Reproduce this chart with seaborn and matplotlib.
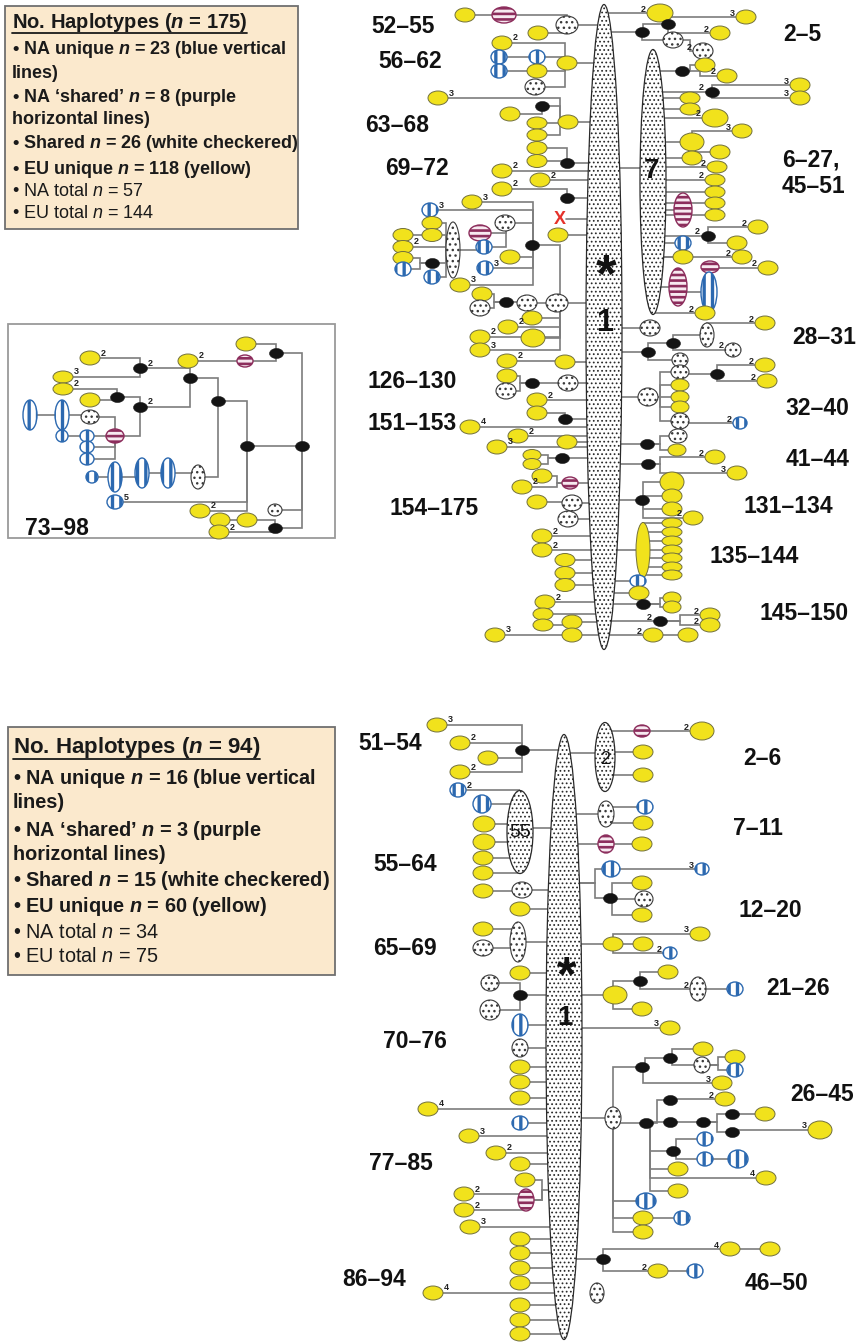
import numpy as np
import matplotlib
matplotlib.use("Agg")
import matplotlib.pyplot as plt
from matplotlib.patches import Ellipse, Rectangle
from matplotlib.path import Path
import seaborn as sns
import pandas as pd

# ---------------------------------------------------------------- DATA
# big (central) haplotypes: name, x, y, width, height
TOP_BIG = [("M1", 604, 327, 36, 645), ("E7", 653, 182, 26, 265)]
BOT_BIG = [("M2", 564, 1037, 36, 605), ("E2", 605, 757, 20, 69), ("E55", 520, 832, 26, 83)]
BIG_TEXT = [("*", 606, 262, 38, "bold"), ("1", 605, 320, 22, "bold"), ("7", 652, 168, 20, "bold"),
            ("*", 567, 963, 36, "bold"), ("1", 565, 1015, 20, "bold"),
            ("2", 605, 758, 13, "normal"), ("55", 520, 830, 14, "normal")]

# haplotype nodes: name, x, y, kind [, w, h] [, mutation label]
TOP_LEFT_NODES = [
    ("a1", 465, 15, "Y"), ("a2", 504, 15, "P", 24, 16), ("a3", 567, 25, "S", 22, 18), ("a4", 538, 33, "Y"),
    ("a5", 502, 43, "Y", "2"), ("a6", 499, 57, "B"), ("a7", 537, 57, "B"), ("a8", 499, 71, "B"), ("a9", 537, 71, "Y"),
    ("a10", 567, 63, "Y"), ("a11", 535, 87, "S"),
    ("a12", 438, 98, "Y", "3"), ("a13", 542, 106, "K"), ("a14", 510, 114, "Y"), ("a15", 568, 122, "Y"),
    ("a16", 537, 123, "Y", 20, 12), ("a17", 537, 135, "Y", 20, 12),
    ("a18", 537, 148, "Y", 20, 13), ("a19", 537, 161, "Y", 20, 13), ("a20", 567, 163, "K"),
    ("a21", 502, 171, "Y", "2"), ("a22", 540, 180, "Y", "2"), ("a23", 502, 189, "Y", "2"), ("a24", 567, 198, "K"),
    ("x1", 558, 235, "Y"),
    ("b0", 557, 303, "S", 22, 18), ("b1", 532, 245, "K"),
    ("b2", 472, 202, "Y", "3"), ("b3", 430, 210, "B", "3"), ("b4", 505, 223, "S"), ("b5", 510, 257, "Y"),
    ("b6", 485, 268, "B", "3"), ("b7", 460, 285, "Y", "3"),
    ("b8", 480, 233, "P", 22, 16), ("b9", 484, 247, "B"),
    ("b10", 453, 250, "S", 14, 56), ("b11", 432, 223, "Y", 20, 13), ("b12", 432, 235, "Y", 20, 13),
    ("b13", 403, 235, "Y", 20, 13), ("b14", 403, 247, "Y", 20, 13, "2"), ("b15", 403, 258, "Y", 20, 13),
    ("b16", 403, 269, "B"), ("b17", 432, 263, "K"), ("b18", 432, 277, "B"),
    ("b19", 482, 294, "Y"), ("b20", 480, 308, "S"), ("b21", 506, 302, "K"), ("b22", 527, 303, "S"),
    ("b23", 532, 318, "Y"), ("b24", 508, 327, "Y", "2"), ("b25", 480, 337, "Y", "2"), ("b26", 480, 350, "Y", "3"),
    ("b27", 533, 338, "Y", 24, 18),
    ("c1", 507, 361, "Y", "2"), ("c2", 565, 362, "Y"),
    ("c3", 507, 376, "Y"), ("c4", 506, 391, "S"), ("c5", 532, 383, "K"), ("c6", 568, 383, "S"),
    ("c7", 537, 400, "Y", "2"), ("c8", 537, 413, "Y"), ("c9", 565, 419, "K"), ("c10", 470, 427, "Y", "4"),
    ("c11", 518, 436, "Y", "2"), ("c12", 567, 442, "Y"), ("c13", 497, 447, "Y", "3"),
    ("c14", 532, 455, "Y", 18, 11), ("c15", 532, 464, "Y", 18, 11), ("c16", 562, 458, "K"),
    ("c17", 542, 476, "Y"), ("c18", 522, 487, "Y", "2"), ("c19", 570, 483, "P", 16, 12),
    ("c20", 537, 502, "Y"), ("c21", 572, 503, "S"), ("c22", 568, 519, "S"),
    ("c23", 542, 536, "Y", "2"), ("c24", 542, 550, "Y", "2"),
    ("c25", 565, 560, "Y", 20, 13), ("c26", 565, 573, "Y", 20, 13), ("c27", 565, 585, "Y", 20, 13),
    ("c28", 545, 602, "Y", "2"), ("c29", 543, 614, "Y", 20, 12), ("c30", 543, 625, "Y", 20, 12), ("c31", 572, 622, "Y"),
    ("c32", 495, 635, "Y", "3"), ("c33", 572, 635, "Y"),
]
TOP_RIGHT_NODES = [
    ("d1", 660, 13, "Y", 26, 18, "<2"), ("d2", 746, 17, "Y", "<3"), ("d3", 668, 24, "K"), ("d4", 720, 33, "Y", "<2"),
    ("d5", 642, 32, "K"), ("d6", 673, 40, "S"), ("d7", 703, 51, "S", "<2"),
    ("e1", 705, 65, "Y"), ("e2", 682, 71, "K"), ("e3", 727, 76, "Y", "<2"),
    ("e4", 712, 92, "K", "<2"), ("e5", 800, 85, "Y", "<3"), ("e6", 800, 98, "Y", "<3"),
    ("e7", 690, 98, "Y", 20, 12), ("e8", 690, 109, "Y", 20, 12), ("e9", 715, 118, "Y", 26, 18, "<2"),
    ("e10", 742, 131, "Y", "<3"), ("e11", 692, 142, "Y", 24, 18), ("e12", 720, 152, "Y"), ("e13", 692, 158, "Y"),
    ("e14", 717, 167, "Y", 20, 12, "<2"), ("e15", 715, 180, "Y", 20, 12, "<2"), ("e16", 715, 192, "Y", 20, 12),
    ("e17", 715, 203, "Y", 20, 12), ("e18", 715, 215, "Y", 20, 12),
    ("e19", 683, 210, "P", 18, 34), ("e20", 708, 236, "K", "<2"), ("e21", 758, 227, "Y", "<2"), ("e22", 737, 243, "Y"),
    ("e23", 683, 243, "B"), ("e24", 683, 257, "Y"), ("e25", 742, 257, "Y", "<2"),
    ("e26", 710, 267, "P", 18, 12), ("e27", 768, 268, "Y", "<2"), ("e28", 678, 287, "P", 18, 38),
    ("e29", 709, 292, "B", 16, 40), ("e30", 705, 313, "Y", "<2"),
    ("f1", 650, 328, "S"), ("f2", 707, 335, "S", 14, 24), ("f3", 765, 323, "Y", "<2"), ("f4", 673, 343, "K"),
    ("f5", 733, 350, "S", 16, 14, "<2"),
    ("f6", 648, 352, "K"), ("f7", 680, 360, "S", 16, 14), ("f8", 680, 372, "S", 18, 14), ("f9", 717, 374, "K"),
    ("f10", 765, 365, "Y", "<2"), ("f11", 767, 381, "Y", "<2"),
    ("f12", 648, 397, "S", 20, 18), ("f13", 680, 385, "Y", 18, 12), ("f14", 680, 397, "Y", 18, 12),
    ("f15", 680, 407, "Y", 18, 12),
    ("f16", 680, 421, "S", 18, 16), ("f17", 740, 423, "B", 14, 12, "<2"), ("f18", 678, 436, "S", 18, 14),
    ("f19", 647, 444, "K"), ("f20", 677, 450, "Y", 18, 12),
    ("f21", 648, 464, "K"), ("f22", 715, 457, "Y", "<2"), ("f23", 737, 473, "Y", "<3"),
    ("f24", 642, 500, "K"), ("f25", 672, 482, "Y", 24, 20), ("f26", 672, 496, "Y"), ("f27", 672, 509, "Y"),
    ("f28", 693, 518, "Y", "<2"),
    ("f29", 643, 550, "Y", 14, 55),
    ("f30", 672, 523, "Y", 20, 10), ("f31", 672, 532, "Y", 20, 10), ("f32", 672, 541, "Y", 20, 10),
    ("f33", 672, 550, "Y", 20, 10), ("f34", 672, 558, "Y", 20, 10), ("f35", 672, 567, "Y", 20, 10),
    ("f36", 672, 575, "Y", 20, 10),
    ("f37", 638, 581, "B", 16, 12), ("f38", 639, 593, "Y"), ("f39", 643, 604, "K"),
    ("f40", 672, 598, "Y", 18, 12), ("f41", 672, 607, "Y", 18, 12),
    ("f42", 660, 621, "K", "<2"), ("f43", 710, 615, "Y", "<2"), ("f44", 710, 625, "Y", "<2"),
    ("f45", 653, 635, "Y", "<2"), ("f46", 688, 635, "Y"),
]
INSET_NODES = [
    ("g1", 90, 358, "Y", "2"), ("g2", 63, 377, "Y", 20, 12, "3"), ("g3", 140, 368, "K", "2"),
    ("g4", 63, 389, "Y", 20, 12, "2"), ("g5", 117, 397, "K"), ("g6", 140, 407, "K", "2"),
    ("g7", 190, 378, "K"), ("g8", 90, 400, "Y"), ("g9", 188, 361, "Y", "2"), ("g10", 218, 401, "K"),
    ("g11", 245, 361, "P", 16, 12), ("g12", 276, 353, "K"), ("g13", 246, 344, "Y"),
    ("g14", 247, 446, "K"), ("g15", 302, 446, "K"),
    ("g16", 30, 415, "B", 14, 30), ("g17", 62, 415, "B", 14, 30), ("g18", 90, 417, "S", 18, 14),
    ("g19", 115, 436, "P", 18, 14),
    ("g20", 62, 436, "B", 12, 12), ("g21", 87, 436, "B", 14, 12), ("g22", 87, 447, "B", 14, 12),
    ("g23", 87, 459, "B", 14, 12),
    ("g24", 92, 477, "B", 12, 12), ("g25", 115, 477, "B", 14, 30), ("g26", 142, 473, "B", 14, 30),
    ("g27", 168, 473, "B", 14, 30), ("g28", 198, 477, "S", 14, 24),
    ("g29", 115, 502, "B", 16, 14, "5"), ("g30", 200, 511, "Y", "2"), ("g31", 275, 510, "S", 14, 12),
    ("g32", 220, 520, "Y"), ("g33", 247, 520, "Y"), ("g34", 275, 528, "K"), ("g35", 219, 532, "Y", "2"),
]
BOT_LEFT_NODES = [
    ("h1", 437, 725, "Y", "3"), ("h2", 460, 743, "Y", "2"), ("h3", 488, 758, "Y"), ("h4", 460, 772, "Y", "2"),
    ("h5", 522, 750, "K"),
    ("h6", 458, 790, "B", "2"), ("h7", 482, 804, "B", 18, 18), ("h8", 484, 824, "Y", 22, 16),
    ("h9", 484, 842, "Y", 22, 16), ("h10", 483, 858, "Y"), ("h11", 483, 873, "Y"),
    ("h12", 483, 891, "Y"), ("h13", 522, 890, "S"), ("h14", 520, 909, "Y"),
    ("h15", 483, 929, "Y"), ("h16", 483, 948, "S"), ("h17", 518, 942, "S", 16, 40), ("h18", 520, 973, "Y"),
    ("h19", 490, 983, "S", 18, 16), ("h20", 520, 995, "K"), ("h21", 490, 1010, "S", 20, 20),
    ("h22", 520, 1025, "B", 16, 22), ("h23", 520, 1048, "S", 16, 18),
    ("h24", 520, 1067, "Y"), ("h25", 520, 1082, "Y"), ("h26", 520, 1098, "Y"), ("h27", 428, 1109, "Y", "4"),
    ("h28", 520, 1123, "B"), ("h29", 469, 1136, "Y", "3"), ("h30", 496, 1153, "Y", "2"), ("h31", 520, 1164, "Y"),
    ("h32", 525, 1180, "Y"), ("h33", 526, 1200, "P", 16, 22), ("h34", 464, 1194, "Y", "2"),
    ("h35", 464, 1210, "Y", "2"), ("h36", 470, 1227, "Y", "3"),
    ("h37", 520, 1239, "Y"), ("h38", 520, 1253, "Y"), ("h39", 520, 1268, "Y"), ("h40", 520, 1283, "Y"),
    ("h41", 433, 1293, "Y", "4"), ("h42", 520, 1305, "Y"), ("h43", 520, 1320, "Y"), ("h44", 520, 1334, "Y"),
]
BOT_RIGHT_NODES = [
    ("i1", 642, 731, "P", 16, 12), ("i2", 702, 731, "Y", 24, 18, "<2"), ("i3", 643, 752, "Y"), ("i4", 643, 775, "Y"),
    ("i5", 606, 814, "S", 16, 26), ("i6", 645, 807, "B"), ("i7", 643, 823, "Y"),
    ("i8", 606, 844, "P", 16, 18), ("i9", 642, 844, "Y"),
    ("i10", 611, 869, "B", 18, 16), ("i11", 702, 869, "B", 14, 12, "<3"), ("i12", 642, 883, "Y"),
    ("i13", 644, 899, "S", 18, 16), ("i14", 610, 898, "K"), ("i15", 642, 915, "Y"),
    ("i16", 613, 944, "Y"), ("i17", 700, 934, "Y", "<3"), ("i18", 643, 944, "Y"), ("i19", 670, 953, "B", 14, 12, "<2"),
    ("i20", 615, 995, "Y", 24, 18), ("i21", 640, 981, "K"), ("i22", 668, 972, "Y"), ("i23", 698, 989, "S", 16, 24, "<2"),
    ("i24", 735, 989, "B"), ("i25", 642, 1009, "Y"), ("i26", 670, 1028, "Y", "<3"),
    ("j0", 613, 1118, "S", 16, 22), ("j1", 642, 1067, "K"), ("j2", 670, 1058, "K"), ("j3", 703, 1049, "Y"),
    ("j4", 702, 1065, "S", 16, 16), ("j5", 735, 1057, "Y"), ("j6", 735, 1070, "B"), ("j7", 722, 1083, "Y", "<3"),
    ("j8", 646, 1123, "K"), ("j9", 670, 1100, "K"), ("j10", 725, 1099, "Y", "<2"),
    ("j11", 670, 1122, "K"), ("j12", 703, 1122, "K"), ("j13", 732, 1114, "K"), ("j14", 765, 1114, "Y"),
    ("j15", 732, 1132, "K"), ("j16", 820, 1130, "Y", 24, 18, "<3"),
    ("j17", 673, 1151, "K"), ("j18", 705, 1139, "B"), ("j19", 705, 1159, "B"), ("j20", 738, 1159, "B", 20, 18),
    ("j21", 678, 1169, "Y"), ("j22", 766, 1178, "Y", "<4"), ("j23", 678, 1191, "Y"),
    ("j24", 646, 1201, "B", 20, 16), ("j25", 643, 1218, "Y"), ("j26", 682, 1218, "B"), ("j27", 643, 1232, "Y"),
    ("k1", 603, 1259, "K"), ("k2", 730, 1249, "Y", "<4"), ("k3", 770, 1249, "Y"), ("k4", 658, 1271, "Y", "<2"),
    ("k5", 695, 1271, "B"), ("k6", 597, 1293, "S", 14, 20),
]

# links: child, parent [, elbow x] [, y on parent] [, y on child]
TOP_EDGES = [
    ("a1", "a2"), ("a2", "a3", 567), ("a3", "M1"), ("a4", "a3", 567),
    ("a5", "a10", 565), ("a6", "a7"), ("a7", "a10", 565), ("a8", "a9"), ("a9", "a10", 565), ("a11", "a10", 565),
    ("a10", "M1"),
    ("a12", "a15", 560), ("a13", "a15", 560), ("a14", "a13", 542), ("a16", "a15", 560), ("a17", "a15", 560),
    ("a15", "M1"),
    ("a18", "a20", 567), ("a19", "a20"), ("a20", "M1"),
    ("a21", "M1"), ("a22", "M1"), ("a23", "a24", 567), ("a24", "M1"), ("x1", "M1"),
    ("b1", "b0", 560), ("b2", "b1", 533), ("b3", "b1", 533), ("b4", "b1", 533), ("b5", "b1", 533),
    ("b6", "b1", 533), ("b7", "b1", 533),
    ("b8", "b4", 506), ("b9", "b4", 506), ("b10", "b8"), ("b11", "b10", 446), ("b12", "b10", 446),
    ("b13", "b12"), ("b14", "b10", 446), ("b15", "b17", 420), ("b16", "b17", 420), ("b17", "b10", 446),
    ("b18", "b10", 446),
    ("b19", "b21", 494), ("b20", "b21", 494), ("b21", "b22"), ("b22", "b0"), ("b0", "M1"),
    ("b23", "b0", 560), ("b24", "b0", 560), ("b25", "b0", 560), ("b26", "b0", 560), ("b27", "b0", 560),
    ("c1", "c2"), ("c2", "M1"), ("c3", "c5", 520), ("c4", "c5", 520), ("c5", "c6"), ("c6", "M1"),
    ("c7", "M1"), ("c8", "c9", 565), ("c9", "M1"), ("c10", "M1"), ("c11", "M1"), ("c12", "M1"), ("c13", "M1"),
    ("c14", "c16", 548), ("c15", "c16", 548), ("c16", "M1"),
    ("c17", "c19", 557), ("c18", "c19", 557), ("c19", "M1"), ("c20", "c21"), ("c21", "M1"), ("c22", "M1"),
    ("c23", "M1"), ("c24", "M1"), ("c25", "M1"), ("c26", "M1"), ("c27", "M1"), ("c28", "M1"),
    ("c29", "M1"), ("c30", "c31"), ("c31", "M1"), ("c32", "c33"), ("c33", "M1"),
    ("d1", "M1"), ("d2", "d1"), ("d3", "d5", 643), ("d4", "d3", 668), ("d5", "M1"), ("d6", "d5", 642),
    ("d7", "d6", 690),
    ("E7", "M1", None, None, 168),
    ("e1", "e2", 690), ("e2", "E7"), ("e3", "e2", 700), ("e4", "E7"), ("e5", "e4", 712), ("e6", "e4", 712),
    ("e7", "E7"), ("e8", "E7"), ("e9", "E7"), ("e10", "e11", 692), ("e11", "E7"), ("e12", "e13", 692),
    ("e13", "E7"), ("e14", "E7"), ("e15", "E7"), ("e16", "E7"), ("e17", "E7"), ("e18", "E7"), ("e19", "E7"),
    ("e20", "E7"), ("e21", "e20", 708), ("e22", "e20", 708), ("e23", "E7"), ("e24", "E7"), ("e25", "E7"),
    ("e27", "e26"), ("e26", "e29", 709), ("e29", "e28"), ("e28", "E7"), ("e30", "E7"),
    ("f1", "M1"), ("f3", "f2", 707), ("f2", "f4", 673), ("f5", "f4", 673), ("f4", "f6", 648), ("f6", "M1"),
    ("f7", "f6", 648), ("f8", "f12", 660), ("f9", "f8"), ("f10", "f9", 717), ("f11", "f9", 717), ("f12", "M1"),
    ("f13", "f12", 660), ("f14", "f12", 660), ("f15", "f12", 660), ("f16", "f12", 660), ("f17", "f16"),
    ("f18", "f19", 660), ("f19", "M1"), ("f20", "f19", 660),
    ("f21", "M1"), ("f22", "f21", 660), ("f23", "f21", 660),
    ("f24", "M1"), ("f25", "f24", 643), ("f26", "f24", 643), ("f27", "f24", 643), ("f28", "f24", 643),
    ("f29", "M1"), ("f30", "f29"), ("f31", "f29"), ("f32", "f29"), ("f33", "f29"), ("f34", "f29"),
    ("f35", "f29"), ("f36", "f29"),
    ("f37", "M1"), ("f38", "M1"), ("f39", "M1"), ("f40", "f39", 660), ("f41", "f39", 660),
    ("f42", "M1"), ("f43", "f42", 680), ("f44", "f42", 680), ("f45", "M1"), ("f46", "f45"),
]
INSET_EDGES = [
    ("g1", "g3", 140), ("g2", "g3", 140), ("g3", "g7", 190), ("g4", "g5", 117), ("g8", "g5"), ("g5", "g6", 140),
    ("g6", "g7", 190), ("g7", "g10", 218),
    ("g9", "g11"), ("g11", "g12", 276), ("g13", "g12", 276), ("g12", "g15", 302), ("g10", "g14", 247),
    ("g14", "g15"),
    ("g16", "g17"), ("g17", "g18"), ("g18", "g19", 115), ("g19", "g6", 140), ("g20", "g21"), ("g21", "g19"),
    ("g22", "g19", 115), ("g23", "g19", 115),
    ("g24", "g25"), ("g25", "g26"), ("g26", "g27"), ("g27", "g28"), ("g28", "g10", 218),
    ("g29", "g14", 247), ("g30", "g14", 247), ("g31", "g15", 302), ("g32", "g33"), ("g33", "g34"),
    ("g35", "g34"), ("g34", "g15", 302),
]
BOT_EDGES = [
    ("h1", "h5", 522), ("h2", "h5", 522), ("h3", "h5", 522), ("h4", "h5", 522), ("h5", "M2"),
    ("h6", "E55", 520), ("h7", "E55"), ("h8", "E55"), ("h9", "E55"), ("h10", "E55"), ("h11", "E55"),
    ("E55", "M2", None, None, 828),
    ("h12", "h13"), ("h13", "M2"), ("h14", "M2"), ("h15", "h17"), ("h16", "h17"), ("h17", "M2"), ("h18", "M2"),
    ("h19", "h20", 520), ("h21", "h20", 520), ("h20", "M2"),
    ("h22", "M2"), ("h23", "M2"), ("h24", "M2"), ("h25", "M2"), ("h26", "M2"), ("h27", "M2"), ("h28", "M2"),
    ("h29", "M2"), ("h30", "M2"), ("h31", "M2"),
    ("h32", "h33", 542), ("h34", "h33"), ("h35", "h33"), ("h33", "M2", 542, 1190), ("h36", "M2"),
    ("h37", "M2"), ("h38", "M2"), ("h39", "M2"), ("h40", "M2"), ("h41", "M2"), ("h42", "M2"), ("h43", "M2"),
    ("h44", "M2"),
    ("E2", "M2", None, None, 753), ("i1", "E2"), ("i2", "i1"), ("i3", "E2"), ("i4", "E2"),
    ("i5", "M2"), ("i6", "i5"), ("i7", "i5"), ("i8", "M2"), ("i9", "i8"),
    ("i10", "M2", 595, 883), ("i11", "i10"), ("i12", "i14", 612), ("i13", "i14"), ("i15", "i14", 612),
    ("i14", "M2", 595, 883),
    ("i16", "M2"), ("i17", "i16", 613), ("i18", "i16"), ("i19", "i16", 613),
    ("i20", "M2"), ("i21", "i20", 613), ("i22", "i21", 640), ("i23", "i21", 640), ("i24", "i23"),
    ("i25", "i20", 613), ("i26", "M2"),
    ("j0", "M2"), ("j1", "j0", 613), ("j2", "j1", 645), ("j3", "j2", 672), ("j4", "j2", 672), ("j5", "j4", 718),
    ("j6", "j4", 718), ("j7", "j1", 643),
    ("j8", "j0"), ("j9", "j8", 657), ("j10", "j9"), ("j11", "j8"), ("j12", "j11"), ("j13", "j12", 717),
    ("j14", "j13"), ("j15", "j12", 717), ("j16", "j15"),
    ("j17", "j8", 650), ("j18", "j17", 676), ("j19", "j17", 676), ("j20", "j19"), ("j21", "j8", 650),
    ("j22", "j8", 650), ("j23", "j8", 650),
    ("j24", "j0", 613), ("j25", "j0", 613), ("j26", "j25"), ("j27", "j0", 613),
    ("k1", "M2"), ("k2", "k1", 603), ("k3", "k2"), ("k4", "k1", 603), ("k5", "k4"),
]

# group labels: text, x, y, alignment
TOP_LABELS = [("52–55", 403, 25, "center"), ("56–62", 410, 60, "center"), ("63–68", 397, 124, "center"),
              ("69–72", 417, 167, "center"), ("126–130", 412, 380, "center"), ("151–153", 412, 422, "center"),
              ("154–175", 434, 507, "center"), ("2–5", 802, 33, "center"), ("6–27,", 782, 158, "left"),
              ("45–51", 782, 185, "left"), ("28–31", 824, 336, "center"), ("32–40", 817, 407, "center"),
              ("41–44", 818, 458, "center"), ("131–134", 788, 505, "center"), ("135–144", 754, 555, "center"),
              ("145–150", 804, 612, "center")]
INSET_LABELS = [("73–98", 57, 527, "center")]
BOT_LABELS = [("51–54", 390, 742, "center"), ("2–6", 762, 757, "center"), ("7–11", 758, 827, "center"),
              ("55–64", 405, 863, "center"), ("12–20", 770, 909, "center"), ("65–69", 405, 947, "center"),
              ("21–26", 798, 987, "center"), ("70–76", 415, 1040, "center"), ("26–45", 822, 1093, "center"),
              ("77–85", 401, 1162, "center"), ("86–94", 374, 1278, "center"), ("46–50", 777, 1282, "center")]

TOP_LEGEND = ["No. Haplotypes ($n$ = 175)", "• NA unique $n$ = 23 (blue vertical", "lines)",
              "• NA ‘shared’ $n$ = 8 (purple", "horizontal lines)", "• Shared $n$ = 26 (white checkered)",
              "• EU unique $n$ = 118 (yellow)", "• NA total $\\mathsf{n}$ = 57", "• EU total $\\mathsf{n}$ = 144"]
TOP_LEGEND_Y = [23, 49, 73, 97, 119, 144, 169, 192, 213]
BOT_LEGEND = ["No. Haplotypes ($n$ = 94)", "• NA unique $n$ = 16 (blue vertical", "lines)",
              "• NA ‘shared’ $n$ = 3 (purple", "horizontal lines)", "• Shared $n$ = 15 (white checkered)",
              "• EU unique $n$ = 60 (yellow)", "• NA total $\\mathsf{n}$ = 34", "• EU total $\\mathsf{n}$ = 75"]
BOT_LEGEND_Y = [748, 778, 803, 830, 855, 880, 906, 932, 957]
LEGEND_WEIGHT = ["bold", "bold", "bold", "bold", "bold", "bold", "bold", "normal", "normal"]

# ---------------------------------------------------------------- STYLE
sns.set_theme(style="white")
plt.rcParams["font.family"] = ["Liberation Sans", "DejaVu Sans"]
plt.rcParams["mathtext.fontset"] = "custom"
plt.rcParams["mathtext.rm"] = "Liberation Sans"
plt.rcParams["mathtext.it"] = "Liberation Sans:italic:bold"
plt.rcParams["mathtext.sf"] = "Liberation Sans:italic"
plt.rcParams["mathtext.bf"] = "Liberation Sans:bold"

DEFAULT_SIZE = {"Y": (20, 14), "B": (16, 14), "P": (22, 16), "S": (20, 16), "K": (14, 10)}
STYLE = {
    "Y": dict(fc="#f1e21c", ec="#72703c", hatch=None, lw=0.7, hlw=1.0),
    "B": dict(fc="white", ec="#2c69b0", hatch="||", lw=1.0, hlw=2.4),
    "P": dict(fc="#f7e9f0", ec="#8c2d5c", hatch="---", lw=1.0, hlw=1.9),
    "S": dict(fc="white", ec="#3a3a3a", hatch="...", lw=0.8, hlw=1.0),
}
LINE_COLOR = "#7d7d7d"


def norm_node(t):
    name, x, y, kind = t[:4]
    rest = list(t[4:])
    w, h = DEFAULT_SIZE[kind]
    lab = ""
    if rest and isinstance(rest[-1], str):
        lab = rest.pop()
    if len(rest) == 2:
        w, h = rest
    return name, x, y, kind, w, h, lab


nodes = [norm_node(t) for t in TOP_LEFT_NODES + TOP_RIGHT_NODES + INSET_NODES + BOT_LEFT_NODES + BOT_RIGHT_NODES]
pos = {n[0]: (n[1], n[2]) for n in nodes}
big = {b[0]: b for b in TOP_BIG + BOT_BIG}
for b in big.values():
    pos[b[0]] = (b[1], b[2])

fig = plt.figure(figsize=(8.56, 13.42), dpi=100)
ax = fig.add_axes([0, 0, 1, 1])
ax.set_xlim(0, 856)
ax.set_ylim(1342, 0)
ax.axis("off")


def add_ellipse(x, y, w, h, fc, ec, hatch, lw, hlw, z):
    with plt.rc_context({"hatch.linewidth": hlw}):
        e = Ellipse((x, y), w, h, facecolor=fc, edgecolor=ec, hatch=hatch, linewidth=lw, zorder=z)
        if hasattr(e, "set_hatch_linewidth"):
            e.set_hatch_linewidth(hlw)
        ax.add_patch(e)
    return e


# boxes
ax.add_patch(Rectangle((5, 6), 293, 223, facecolor="#fbe9cd", edgecolor="#6f6f6f", linewidth=1.3, zorder=0.5))
ax.add_patch(Rectangle((8, 727), 327, 248, facecolor="#fbe9cd", edgecolor="#6f6f6f", linewidth=1.3, zorder=0.5))
ax.add_patch(Rectangle((8, 324), 327, 214, facecolor="white", edgecolor="#9a9a9a", linewidth=1.3, zorder=0.5))

# links
for e in TOP_EDGES + INSET_EDGES + BOT_EDGES:
    child, parent = e[0], e[1]
    elbow = e[2] if len(e) > 2 else None
    attach = e[3] if len(e) > 3 else None
    cy_over = e[4] if len(e) > 4 else None
    cx, cy = pos[child]
    if cy_over is not None:
        cy = cy_over
    px, py = pos[parent]
    if parent in big:
        py = cy
    if attach is not None:
        py = attach
    ex = px if elbow is None else elbow
    ax.plot([cx, ex, ex, px], [cy, cy, py, py], color=LINE_COLOR, linewidth=1.2, zorder=1,
            solid_capstyle="butt", solid_joinstyle="miter")

# red X (unsampled) linked to the central haplotype
ax.plot([566, 604], [219, 219], color=LINE_COLOR, linewidth=1.2, zorder=1)
ax.text(560, 219, "X", color="#e5322b", fontsize=13, fontweight="bold", ha="center", va="center", zorder=5)

# big central haplotypes
for name, x, y, w, h in TOP_BIG + BOT_BIG:
    add_ellipse(x, y, w, h, "white", "#2a2a2a", "....", 0.9, 0.75, 2)
for txt, x, y, fs, fw in BIG_TEXT:
    em = fs * 100 / 72
    off = 0.57 * em if txt == "*" else 0.358 * em
    ax.text(x, y + off, txt, fontsize=fs, fontweight=fw, ha="center", va="baseline", color="#111111", zorder=5)

# haplotype nodes
for name, x, y, kind, w, h, lab in nodes:
    if kind != "K":
        st = STYLE[kind]
        add_ellipse(x, y, w, h, st["fc"], st["ec"], st["hatch"], st["lw"], st["hlw"], 3)
    if lab:
        if lab.startswith("<"):
            ax.text(x - w / 2 - 1, y - 4, lab[1:], fontsize=6.5, fontweight="bold", ha="right", va="center",
                    color="#222222", zorder=5)
        else:
            ax.text(x + w / 2 + 1, y - 5, lab, fontsize=6.5, fontweight="bold", ha="left", va="center",
                    color="#222222", zorder=5)

# black (missing / intermediate) haplotypes via seaborn scatter
theta = np.linspace(0, 2 * np.pi, 48)
KMARK = Path(np.column_stack([np.cos(theta), 0.72 * np.sin(theta)]), closed=True)
kdf = pd.DataFrame([(x, y) for name, x, y, kind, w, h, lab in nodes if kind == "K"], columns=["x", "y"])
sns.scatterplot(data=kdf, x="x", y="y", marker=KMARK, s=100, color="#141414", edgecolor="#141414",
                linewidth=0.4, ax=ax, legend=False, zorder=4)
ax.set_xlim(0, 856)
ax.set_ylim(1342, 0)
ax.axis("off")

# group labels
for txt, x, y, al in TOP_LABELS + INSET_LABELS + BOT_LABELS:
    em = 16.5 * 100 / 72
    ax.text(x, y + 0.358 * em, txt, fontsize=16.5, fontweight="bold", ha=al, va="baseline",
            color="#111111", zorder=5)

# legend boxes
title_artists = []
for lines, ys, x0, fs_t, fs_i in [(TOP_LEGEND, TOP_LEGEND_Y, 12, 14.5, 13.0),
                                  (BOT_LEGEND, BOT_LEGEND_Y, 13, 16.0, 14.3)]:
    for i, (txt, y, fw) in enumerate(zip(lines, ys, LEGEND_WEIGHT)):
        fs = fs_t if i == 0 else fs_i
        t = ax.text(x0, y, txt, fontsize=fs, fontweight=fw, ha="left", va="center", color="#1a1a1a", zorder=5)
        if i == 0:
            title_artists.append(t)

fig.canvas.draw()
inv = ax.transData.inverted()
for t in title_artists:
    bb = t.get_window_extent()
    (xa, ya), (xb, yb) = inv.transform([[bb.x0, bb.y0], [bb.x1, bb.y1]])
    ax.plot([xa, xb], [ya - 1.5, ya - 1.5], color="#1a1a1a", linewidth=1.3, zorder=5)

fig.savefig("out.png", dpi=100)
